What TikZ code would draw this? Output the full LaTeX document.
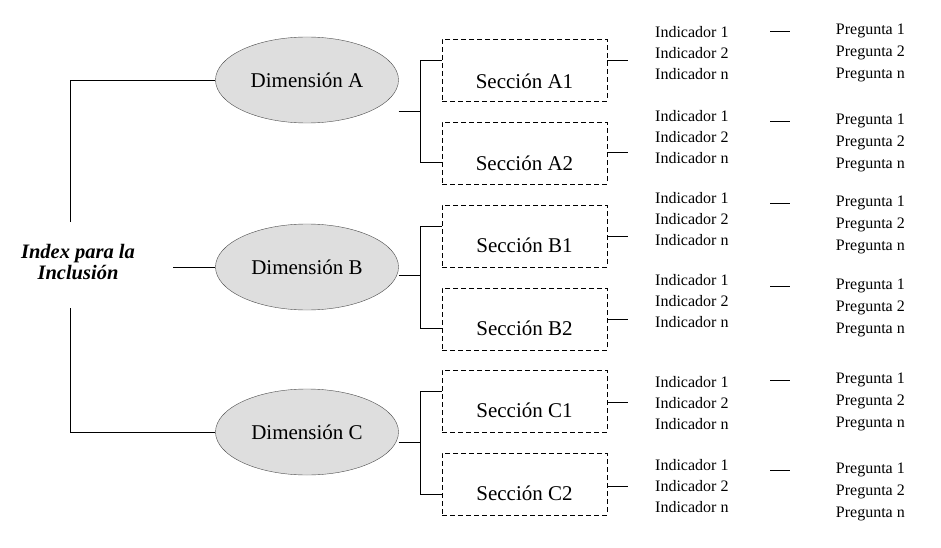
\documentclass[tikz,border=0pt]{standalone}
\usepackage{fontspec}
\setmainfont{Liberation Serif}
\usetikzlibrary{shapes.geometric}
\begin{document}
\begin{tikzpicture}[x=1pt,y=-1pt,
    dim/.style={draw=black!70,fill=black!13,ellipse,minimum width=183,minimum height=86},
    sec/.style={draw,thick,dashed,dash pattern=on 5pt off 3pt,minimum width=165,minimum height=62},
    txt/.style={font=\fontsize{16}{18}\selectfont,inner sep=0pt},
    big/.style={font=\fontsize{21}{24}\selectfont,inner sep=0pt}]
    \useasboundingbox (0,0) rectangle (941,548);
    \node[big,align=center,font=\fontsize{20.5}{21}\selectfont\bfseries\itshape](idx) at (78,262){Index para la\\Inclusión};
    % dimensiones
    \foreach \n/\y/\m in {A/80/111,B/267/275,C/432/442}{
        \node[dim](d\n) at (307,\y){};
        \node[big] at (307,\y){Dimensión \n};
        \coordinate(m\n) at (420,\m);
        \draw (d\n.east |- m\n)--(m\n);
    }
    \coordinate(top) at (70,222);
    \coordinate(bot) at (70,308);
    \draw (top)--(70,80)--(dA.west);
    \draw (bot)--(70,432)--(dC.west);
    \draw (173,267)--(dB.west);
    % secciones
    \foreach \s/\y/\t/\r in {A1/70/81/60,A2/153/163/152,B1/236/245/236,B2/319/328/319,C1/401/410/402,C2/484/493/486}{
        \node[sec](s\s) at (524.5,\y){};
        \node[big] at (524.5,\t){Sección \s};
        \draw (s\s.east |- 0,\r)--(628,\r);
    }
    \draw (sA1.west |- 0,60)--(420,60)--(420,162)--(sA2.west |- 0,162);
    \draw (sB1.west |- 0,226)--(420,226)--(420,328)--(sB2.west |- 0,328);
    \draw (sC1.west |- 0,391)--(420,391)--(420,494)--(sC2.west |- 0,494);
    % indicadores y preguntas
    \foreach \i/\p in {32/31,116/121,198/203,280/286,382/380,465/470}{
        \node[txt,anchor=west](i\i) at (655,\i){Indicador 1};
        \node[txt,anchor=west] at (655,\i+21){Indicador 2};
        \node[txt,anchor=west] at (655,\i+42){Indicador n};
        \node[txt,anchor=east](p\i) at (905,\p){Pregunta 1};
        \node[txt,anchor=east] at (905,\p+22){Pregunta 2};
        \node[txt,anchor=east] at (905,\p+44){Pregunta n};
        \draw (770,\p)--(790,\p);
    }
\end{tikzpicture}
\end{document}
